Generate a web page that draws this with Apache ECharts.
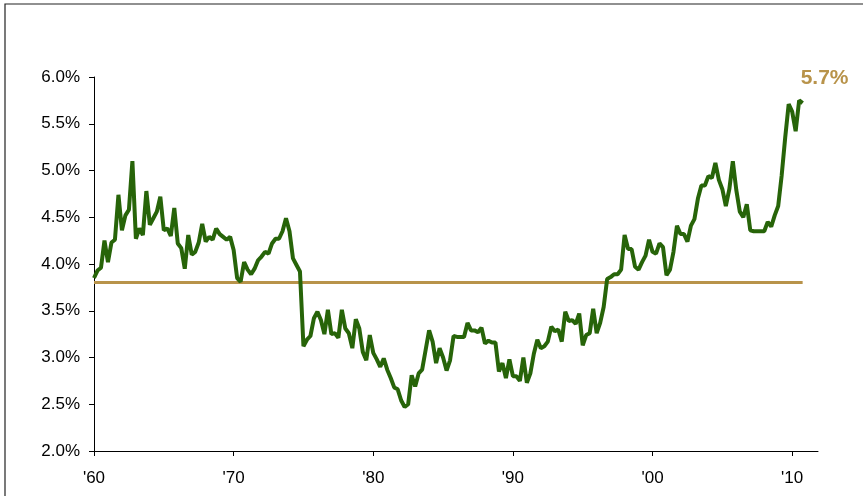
<!DOCTYPE html>
<html>
<head>
<meta charset="utf-8">
<script src="https://cdn.jsdelivr.net/npm/echarts@6/dist/echarts.min.js"></script>
<style>
  html, body { margin: 0; padding: 0; background: #fff; }
  #main { width: 863px; height: 496px; }
</style>
</head>
<body>
<div id="main"></div>
<script>
(function () {

    // quarterly series, first point = 1960 Q1
    var startYear = 1960;
    var yields = [
        3.85, 3.93, 3.96, 4.25, 4.02, 4.23, 4.26, 4.74, 4.36, 4.52,
        4.58, 5.10, 4.27, 4.38, 4.31, 4.78, 4.42, 4.49, 4.56, 4.72,
        4.36, 4.38, 4.30, 4.60, 4.22, 4.17, 3.95, 4.31, 4.10, 4.13,
        4.23, 4.43, 4.24, 4.29, 4.26, 4.38, 4.32, 4.29, 4.26, 4.29,
        4.15, 3.85, 3.81, 4.02, 3.94, 3.89, 3.95, 4.04, 4.08, 4.13,
        4.11, 4.22, 4.27, 4.27, 4.35, 4.49, 4.35, 4.06, 3.99, 3.92,
        3.12, 3.19, 3.23, 3.42, 3.49, 3.40, 3.25, 3.51, 3.25, 3.26,
        3.21, 3.51, 3.31, 3.26, 3.10, 3.41, 3.31, 3.06, 2.97, 3.24,
        3.05, 2.98, 2.90, 2.99, 2.87, 2.78, 2.68, 2.66, 2.54, 2.47,
        2.50, 2.81, 2.69, 2.83, 2.87, 3.08, 3.29, 3.17, 2.94, 3.10,
        3.00, 2.86, 2.97, 3.23, 3.22, 3.22, 3.22, 3.37, 3.29, 3.29,
        3.27, 3.32, 3.15, 3.18, 3.16, 3.16, 2.85, 2.94, 2.78, 2.98,
        2.80, 2.80, 2.75, 3.00, 2.73, 2.83, 3.04, 3.19, 3.10, 3.12,
        3.17, 3.33, 3.28, 3.30, 3.17, 3.49, 3.39, 3.40, 3.36, 3.47,
        3.13, 3.24, 3.26, 3.52, 3.26, 3.37, 3.54, 3.84, 3.86, 3.89,
        3.89, 3.94, 4.31, 4.16, 4.16, 3.97, 3.94, 4.02, 4.09, 4.26,
        4.13, 4.11, 4.22, 4.18, 3.88, 3.94, 4.13, 4.41, 4.32, 4.32,
        4.24, 4.41, 4.48, 4.70, 4.84, 4.84, 4.94, 4.92, 5.08, 4.90,
        4.80, 4.62, 4.80, 5.10, 4.79, 4.56, 4.50, 4.64, 4.36, 4.35,
        4.35, 4.35, 4.35, 4.45, 4.40, 4.52, 4.62, 4.95, 5.35, 5.71,
        5.63, 5.42, 5.75, 5.72
    ];
    var average = 3.81;
    var yTicks = [2.0, 6.0, 0.5];   // min, max, step
    var xTicks = [1960, 2010, 10];

    var points = yields.map(function (v, i) { return [startYear + i / 4, v]; });
    var lastX = points[points.length - 1][0];

    var green = '#276409';
    var gold = '#B8934A';

    var myChart = echarts.init(document.getElementById('main'));
    myChart.setOption({
        backgroundColor: '#fff',
        animation: false,
        textStyle: { fontFamily: 'Liberation Sans, Arial, sans-serif' },
        graphic: [{
            type: 'rect',
            shape: { x: 5, y: 4, width: 900, height: 600 },
            style: { fill: 'none', stroke: '#222', lineWidth: 1.2 },
            silent: true
        }],
        grid: { left: 94, right: 45, top: 77, bottom: 45 },
        xAxis: {
            type: 'value',
            min: xTicks[0],
            max: 2011.85,
            interval: xTicks[2],
            splitLine: { show: false },
            axisLine: { lineStyle: { color: '#000', width: 1 } },
            axisTick: { show: true, length: 5, lineStyle: { color: '#000' } },
            axisLabel: {
                color: '#000',
                fontSize: 17,
                margin: 19,
                showMaxLabel: false,
                formatter: function (v) {
                    return v <= xTicks[1] ? "'" + String(v).slice(2) : '';
                }
            }
        },
        yAxis: {
            type: 'value',
            min: yTicks[0],
            max: yTicks[1],
            interval: yTicks[2],
            splitLine: { show: false },
            axisLine: { show: true, lineStyle: { color: '#000', width: 1 } },
            axisTick: { show: true, length: 5, lineStyle: { color: '#000' } },
            axisLabel: {
                color: '#000',
                fontSize: 17,
                margin: 14,
                formatter: function (v) { return v.toFixed(1) + '%'; }
            }
        },
        series: [{
            type: 'line',
            data: points,
            symbol: 'none',
            lineStyle: { color: green, width: 4 },
            z: 3,
            endLabel: {
                show: true,
                color: gold,
                fontSize: 21,
                fontWeight: 'bold',
                offset: [-10, -25],
                formatter: function (p) { return p.value[1].toFixed(1) + '%'; }
            },
            markLine: {
                silent: true,
                symbol: 'none',
                label: { show: false },
                lineStyle: { color: gold, width: 3, type: 'solid' },
                z: 2,
                data: [[{ coord: [startYear, average] }, { coord: [lastX, average] }]]
            }
        }]
    });
})();
</script>
</body>
</html>
